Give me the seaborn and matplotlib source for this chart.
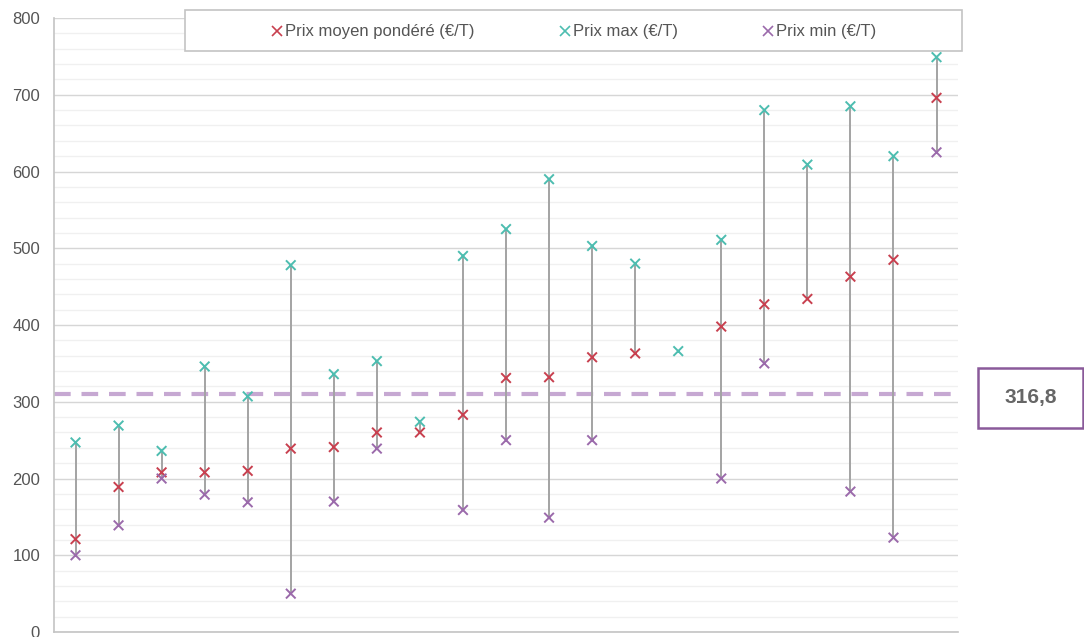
import numpy as np
import pandas as pd
import matplotlib.pyplot as plt
import seaborn as sns
from matplotlib.lines import Line2D
from matplotlib.patches import Rectangle

sns.set_theme(style="white")
plt.rcParams["font.family"] = ["Liberation Sans", "DejaVu Sans"]

# valeurs (NaN = pas de point)
categories = list(range(21))
prix_moyen = [121, 189, 208, 208, 210, 239, 241, 260, 260, 283, 331, 332,
              358, 363, np.nan, 398, 427, 434, 463, 485, 696]
prix_max = [247, 269, 236, 346, 307, 478, 336, 353, 274, 490, 525, 590,
            503, 480, 366, 511, 680, 609, 685, 620, 749]
prix_min = [100, 139, 200, 179, 169, 50, 170, 239, np.nan, 159, 250, 149,
            250, np.nan, np.nan, 200, 350, np.nan, 183, 123, 625]
moyenne_ref = 310
moyenne_label = "316,8"

series = {
    "Prix moyen pondéré (€/T)": prix_moyen,
    "Prix max (€/T)": prix_max,
    "Prix min (€/T)": prix_min,
}
colors = ["#c8404f", "#4dbdb0", "#9b6aab"]

df = pd.DataFrame({"cat": categories, **series}).melt(
    id_vars="cat", var_name="serie", value_name="prix").dropna()

fig = plt.figure(figsize=(10.84, 6.37), dpi=100)
ax = fig.add_axes([0.0498, 0.0078, 0.8340, 0.9639])

# lignes haut-bas
vals = np.array([prix_moyen, prix_max, prix_min], dtype=float)
lo = np.nanmin(vals, axis=0)
hi = np.nanmax(vals, axis=0)
ax.vlines(categories, lo, hi, color="#a3a3a3", lw=1.4, zorder=2)

ax.axhline(moyenne_ref, color="#c6a8d2", lw=3, dashes=(4, 2.6), zorder=1.5)

sns.scatterplot(data=df, x="cat", y="prix", hue="serie", hue_order=list(series),
                palette=colors, marker="x", s=48, linewidth=1.4,
                legend=False, ax=ax, zorder=3)

ax.set_xlim(-0.5, 20.5)
ax.set_ylim(0, 800)
ax.set_yticks(range(0, 801, 100))
ax.set_yticks(range(0, 801, 20), minor=True)
ax.set_xticks([])
ax.grid(axis="y", which="major", color="#d6d6d6", lw=1)
ax.grid(axis="y", which="minor", color="#f0f0f0", lw=1)
ax.set_axisbelow(True)
ax.tick_params(axis="y", which="both", length=0, labelsize=12,
               labelcolor="#555555", pad=10)
ax.set_xlabel("")
ax.set_ylabel("")
for side in ["top", "right"]:
    ax.spines[side].set_visible(False)
for side in ["left", "bottom"]:
    ax.spines[side].set_color("#c4c4c4")
    ax.spines[side].set_linewidth(1.2)

# légende en haut dans un cadre
fig.patches.append(Rectangle((0.1707, 0.920), 0.7168, 0.064, transform=fig.transFigure,
                             facecolor="white", edgecolor="#c4c4c4", lw=1.2, zorder=5))
handles = [Line2D([], [], ls="", marker="x", color=c, markersize=6.5, mew=1.2)
           for c in colors]
fig.legend(handles, list(series), loc="center", bbox_to_anchor=(0.529, 0.950),
           ncol=3, frameon=False, fontsize=12, labelcolor="#555555",
           handletextpad=0.1, columnspacing=5.0, handlelength=0.8)

# étiquette de la moyenne
fig.patches.append(Rectangle((0.9022, 0.3281), 0.0969, 0.0942, transform=fig.transFigure,
                             facecolor="white", edgecolor="#8a5a9a", lw=1.8, zorder=5))
fig.text(0.9507, 0.3752, moyenne_label, ha="center", va="center", fontsize=15,
         fontweight="bold", color="#666666", zorder=6)

fig.savefig("out.png", dpi=100)
